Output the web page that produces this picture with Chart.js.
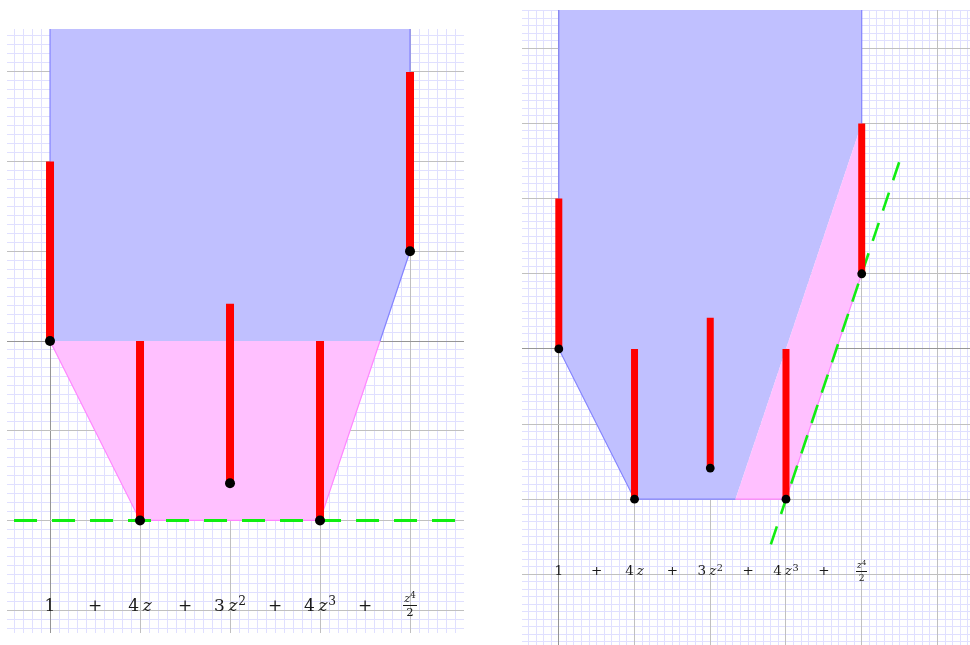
<!DOCTYPE html>
<html><head><meta charset="utf-8">
<script src="https://cdn.jsdelivr.net/npm/chart.js@4.4.1/dist/chart.umd.min.js"></script>
<style>
html,body{margin:0;padding:0;background:#fff;width:970px;height:645px;overflow:hidden;}
.panel{position:absolute;}
canvas{display:block;}
.lbl{position:absolute;font-family:"DejaVu Serif",serif;color:#1a1a1a;white-space:nowrap;line-height:1;}
.lbl i{margin-left:0.22em;}
.lbl .sup{position:relative;top:-0.48em;font-size:0.72em;margin-left:0.05em;}
.frac{position:absolute;font-family:"DejaVu Serif",serif;color:#1a1a1a;display:flex;flex-direction:column;align-items:center;line-height:1;}
.frac .num{border-bottom:1px solid #1a1a1a;padding:0 1px 1px 1px;}
.frac .den{padding-top:1px;}
</style></head><body>
<div id="p1" class="panel" style="left:7px;top:29px;width:457px;height:604px"><canvas id="c1" width="457" height="604"></canvas></div>
<div id="p2" class="panel" style="left:522px;top:10px;width:448px;height:635px"><canvas id="c2" width="448" height="635"></canvas></div>
<script>
// ---- data ----
const exponents    = [0, 1, 2, 3, 4];
const coefficients = ['1', '4', '3', '4', '1/2'];
const valuations   = [0, -2, -1.585, -2, 1];     // black points
const barTops      = [2, 0, 0.415, 0, 3];         // upper ends of red bars
const signPositions = [0.5, 1.5, 2.5, 3.5];
const labelRow = -3;

// left panel
const leftRangeX = [-0.478, 4.6];
const leftRangeY = [-3.255, 3.478];
const leftBlueX = [0, 0, 3.667, 4, 4];
const leftBlueY = [6, 0, 0, 1, 6];
const leftPinkX = [0, 1, 3, 3.667];
const leftPinkY = [0, -2, -2, 0];
const leftBlueEdgeX = [0, 0, null, 3.667, 4, 4];
const leftBlueEdgeY = [6, 0, null, 0, 1, 6];
const leftPinkEdgeX = [0, 1, 3, 3.667];
const leftPinkEdgeY = [0, -2, -2, 0];
const leftGreenX = [-0.4, 4.5];
const leftGreenY = [-2, -2];

// right panel
const rightRangeX = [-0.486, 5.43];
const rightRangeY = [-3.94, 4.51];
const rightBlueX = [0, 0, 1, 2.333, 4, 4];
const rightBlueY = [6, 0, -2, -2, 3, 6];
const rightPinkX = [2.333, 3, 4, 4];
const rightPinkY = [-2, -2, 1, 3];
const rightBlueEdgeX = [0, 0, 1, 2.333, null, 4, 4];
const rightBlueEdgeY = [6, 0, -2, -2, null, 3, 6];
const rightPinkEdgeX = [2.333, 3, 4];
const rightPinkEdgeY = [-2, -2, 1];
const rightGreenX = [2.8, 4.5];
const rightGreenY = [-2.6, 2.5];

// ---- styles ----
const C = {
  blueFill: '#c0c0ff', blueEdge: '#8484ff',
  pinkFill: '#ffc0ff', pinkEdge: '#ff86ff',
  red: '#ff0000', green: '#11ee11', point: '#000000',
  minor: 'rgb(224,224,255)', major: 'rgb(192,192,192)', axis: 'rgb(150,150,150)'
};

function zip(xs, ys) { return xs.map((x, i) => ({x: x, y: ys[i]})); }

function minorTicks(scale) {
  const t = [];
  for (let k = Math.ceil(scale.min * 10 - 1e-9); k <= Math.floor(scale.max * 10 + 1e-9); k++) t.push({value: k / 10});
  scale.ticks = t;
}
function majorTicks(scale) {
  const t = [];
  for (let k = Math.ceil(scale.min - 1e-9); k <= Math.floor(scale.max + 1e-9); k++) t.push({value: k});
  scale.ticks = t;
}
function axisCfg(range, pos, major) {
  return {
    type: 'linear', min: range[0], max: range[1], position: pos,
    afterBuildTicks: major ? majorTicks : minorTicks,
    ticks: {display: false},
    border: {display: false},
    grid: {
      drawTicks: false, lineWidth: 1, z: major ? -2 : -3,
      color: major ? (ctx => Math.abs(ctx.tick.value) < 1e-9 ? C.axis : C.major) : C.minor
    }
  };
}

function makePanel(canvasId, panelEl, P) {
  const datasets = [];
  // fills
  datasets.push({data: zip(P.blueX, P.blueY), showLine: true, fill: 'shape', backgroundColor: C.blueFill,
                 borderWidth: 0, pointRadius: 0, order: 10});
  datasets.push({data: zip(P.pinkX, P.pinkY), showLine: true, fill: 'shape', backgroundColor: C.pinkFill,
                 borderWidth: 0, pointRadius: 0, order: 9});
  // edges
  datasets.push({data: zip(P.blueEdgeX, P.blueEdgeY), showLine: true, borderColor: C.blueEdge, borderWidth: 1.2,
                 pointRadius: 0, spanGaps: false, order: 8});
  datasets.push({data: zip(P.pinkEdgeX, P.pinkEdgeY), showLine: true, borderColor: C.pinkEdge, borderWidth: 1.2,
                 pointRadius: 0, order: 7});
  // green dashed line
  datasets.push({data: zip(P.greenX, P.greenY), showLine: true, borderColor: C.green, borderWidth: P.greenW,
                 borderDash: P.dash, pointRadius: 0, order: 6});
  // red bars
  exponents.forEach((e, i) => {
    datasets.push({data: [{x: e, y: valuations[i]}, {x: e, y: barTops[i]}], showLine: true,
                   borderColor: C.red, borderWidth: P.barW, borderCapStyle: 'butt', pointRadius: 0, order: 5});
  });
  // points
  datasets.push({data: zip(exponents, valuations), showLine: false, pointRadius: P.radius,
                 pointBackgroundColor: C.point, pointBorderWidth: 0, order: 1});

  const chart = new Chart(document.getElementById(canvasId), {
    type: 'scatter',
    data: {datasets},
    options: {
      responsive: false, animation: false, events: [],
      layout: {padding: 0, autoPadding: false},
      plugins: {legend: {display: false}, tooltip: {enabled: false}},
      scales: {
        x: axisCfg(P.rangeX, 'bottom', false),
        y: axisCfg(P.rangeY, 'left', false),
        xM: axisCfg(P.rangeX, 'bottom', true),
        yM: axisCfg(P.rangeY, 'left', true)
      }
    }
  });

  // text labels of the polynomial
  const sx = chart.scales.x, sy = chart.scales.y;
  const base = sy.getPixelForValue(labelRow) + P.baseShift;
  const F = P.font;
  function addLabel(html, xv) {
    const d = document.createElement('div');
    d.className = 'lbl';
    d.style.fontSize = F + 'px';
    d.innerHTML = html;
    panelEl.appendChild(d);
    const w = d.getBoundingClientRect().width;
    d.style.left = (sx.getPixelForValue(xv) - w / 2) + 'px';
    d.style.top = (base - 0.846 * F) + 'px';
  }
  exponents.forEach((e, i) => {
    const c = coefficients[i];
    if (c.includes('/')) {
      const parts = c.split('/');
      const d = document.createElement('div');
      d.className = 'frac';
      d.style.fontSize = (F * 0.68) + 'px';
      const numCoef = parts[0] === '1' ? '' : parts[0];
      d.innerHTML = '<span class="num">' + numCoef + '<i style="font-style:italic">z</i><span style="position:relative;top:-0.4em;font-size:0.75em">' + e + '</span></span><span class="den">' + parts[1] + '</span>';
      panelEl.appendChild(d);
      const r = d.getBoundingClientRect();
      const num = d.querySelector('.num').getBoundingClientRect();
      d.style.left = (sx.getPixelForValue(e) - r.width / 2) + 'px';
      d.style.top = (base - P.fracBar - (num.height)) + 'px';
      return;
    }
    let html = c;
    if (e >= 1) html += '<i>z</i>';
    if (e >= 2) html += '<span class="sup">' + e + '</span>';
    addLabel(html, e);
  });
  signPositions.forEach(p => addLabel('+', p));
  return chart;
}

makePanel('c1', document.getElementById('p1'), {
  rangeX: leftRangeX, rangeY: leftRangeY,
  blueX: leftBlueX, blueY: leftBlueY, pinkX: leftPinkX, pinkY: leftPinkY,
  blueEdgeX: leftBlueEdgeX, blueEdgeY: leftBlueEdgeY, pinkEdgeX: leftPinkEdgeX, pinkEdgeY: leftPinkEdgeY,
  greenX: leftGreenX, greenY: leftGreenY,
  barW: 8, radius: 5, dash: [23, 15], greenW: 3, font: 17, baseShift: 1, fracBar: 5
});
makePanel('c2', document.getElementById('p2'), {
  rangeX: rightRangeX, rangeY: rightRangeY,
  blueX: rightBlueX, blueY: rightBlueY, pinkX: rightPinkX, pinkY: rightPinkY,
  blueEdgeX: rightBlueEdgeX, blueEdgeY: rightBlueEdgeY, pinkEdgeX: rightPinkEdgeX, pinkEdgeY: rightPinkEdgeY,
  greenX: rightGreenX, greenY: rightGreenY,
  barW: 7, radius: 4.4, dash: [19, 13], greenW: 2.6, font: 13.5, baseShift: 1.5, fracBar: 4
});
</script>
</body></html>
